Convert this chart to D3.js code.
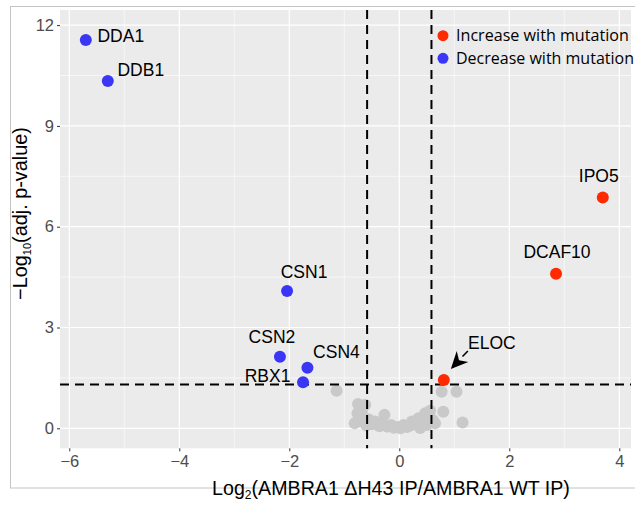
<!DOCTYPE html>
<html><head><meta charset="utf-8">
<script src="https://cdn.jsdelivr.net/npm/d3@7"></script>
<style>
html,body{margin:0;padding:0;background:#fff;}
svg{display:block;}
</style></head>
<body>
<svg id="chart" width="635" height="508"></svg>
<script>
// ---------- data ----------
const genes      = ["DDA1","DDB1","CSN1","CSN2","CSN4","RBX1","ELOC","DCAF10","IPO5"];
const log2FC     = [-5.70, -5.30, -2.04, -2.17, -1.67, -1.75, 0.81, 2.85, 3.70];
const negLog10P  = [11.56, 10.34, 4.09, 2.13, 1.80, 1.37, 1.44, 4.60, 6.87];
const direction  = ["Decrease","Decrease","Decrease","Decrease","Decrease","Decrease","Increase","Increase","Increase"];

const bgLog2FC    = [-1.14,-0.75,-0.62,-0.68,-0.76,-0.81,-0.72,-0.56,-0.60,-0.50,-0.44,-0.36,-0.27,-0.30,-0.22,-0.15,-0.10,-0.03,0.02,0.08,0.14,0.20,0.23,0.28,0.35,0.38,0.42,0.47,0.50,0.56,0.61,0.65,0.80,0.77,1.04,1.15];
const bgNegLog10P = [1.12,0.72,0.70,0.49,0.45,0.15,0.22,0.27,0.08,0.12,0.20,0.06,0.40,0.15,0.05,0.10,0.02,0.04,0.00,0.10,0.04,0.08,0.20,0.12,0.30,0.01,0.18,0.45,0.10,0.52,0.25,0.15,0.49,1.09,1.09,0.17];

const xTicks = [-6,-4,-2,0,2,4];
const yTicks = [0,3,6,9,12];
const legendLabels = ["Increase with mutation","Decrease with mutation"];
const legendKeys   = ["Increase","Decrease"];
const fcCutoff = 0.585;
const pCutoff  = 1.301;

// label nudges (pixels, layout only)
const labelDx = [35, 33, 17, -8, 29, -35.5, 48, 1, -4];
const labelDy = [-4, -11, -19, -20, -16, -7, -37, -22, -22];

// ---------- layout ----------
const colors = {Increase:"#ff2a00", Decrease:"#3b36f5"};
const grey = "#c9c9c9";
const P = {left:60, right:631, top:10, bottom:448.3};

const svg = d3.select("#chart");
const x = d3.scaleLinear().domain([-6.169, 4.213]).range([P.left, P.right]);
const y = d3.scaleLinear().domain([-0.595, 12.45]).range([P.bottom, P.top]);

// outer border
svg.append("rect").attr("x",10.5).attr("y",6.5).attr("width",640).attr("height",481.5)
  .attr("fill","none").attr("stroke","#c4c4c4").attr("stroke-width",1);

// panel
svg.append("rect").attr("x",P.left).attr("y",P.top)
  .attr("width",P.right-P.left).attr("height",P.bottom-P.top).attr("fill","#ebebeb");

const grid = svg.append("g");
const xMinor = xTicks.slice(0,-1).map((d,i)=>(d+xTicks[i+1])/2);
const yMinor = yTicks.slice(0,-1).map((d,i)=>(d+yTicks[i+1])/2).concat([13.5]).filter(v=>y(v)>=P.top);
grid.selectAll(".xmin").data(xMinor).join("line")
  .attr("x1",d=>x(d)).attr("x2",d=>x(d)).attr("y1",P.top).attr("y2",P.bottom)
  .attr("stroke","#fff").attr("stroke-width",0.6);
grid.selectAll(".ymin").data(yMinor).join("line")
  .attr("y1",d=>y(d)).attr("y2",d=>y(d)).attr("x1",P.left).attr("x2",P.right)
  .attr("stroke","#fff").attr("stroke-width",0.6);
grid.selectAll(".xmaj").data(xTicks).join("line")
  .attr("x1",d=>x(d)).attr("x2",d=>x(d)).attr("y1",P.top).attr("y2",P.bottom)
  .attr("stroke","#fff").attr("stroke-width",1.2);
grid.selectAll(".ymaj").data(yTicks).join("line")
  .attr("y1",d=>y(d)).attr("y2",d=>y(d)).attr("x1",P.left).attr("x2",P.right)
  .attr("stroke","#fff").attr("stroke-width",1.2);

// background points
const bg = bgLog2FC.map((v,i)=>({x:v,y:bgNegLog10P[i]}));
svg.append("g").selectAll("circle").data(bg).join("circle")
  .attr("cx",d=>x(d.x)).attr("cy",d=>y(d.y)).attr("r",6).attr("fill",grey);

// cutoff lines
const cut = svg.append("g").attr("stroke","#000").attr("stroke-width",2).attr("stroke-dasharray","9,6");
[-fcCutoff, fcCutoff].forEach(v=>{
  cut.append("line").attr("x1",x(v)).attr("x2",x(v)).attr("y1",P.top).attr("y2",P.bottom);
});
cut.append("line").attr("x1",P.left).attr("x2",P.right).attr("y1",y(pCutoff)).attr("y2",y(pCutoff));

// significant points
const sig = genes.map((g,i)=>({g, x:log2FC[i], y:negLog10P[i], dir:direction[i], dx:labelDx[i], dy:labelDy[i]}));
svg.append("g").selectAll("circle").data(sig).join("circle")
  .attr("cx",d=>x(d.x)).attr("cy",d=>y(d.y)).attr("r",6).attr("fill",d=>colors[d.dir]);

// labels
svg.append("g").selectAll("text").data(sig).join("text")
  .attr("x",d=>x(d.x)+d.dx).attr("y",d=>y(d.y)+d.dy).attr("dy","0.36em")
  .attr("text-anchor","middle")
  .attr("font-family","'Liberation Sans', Arial, sans-serif").attr("font-size",17.5)
  .attr("fill","#000").text(d=>d.g);

// arrow for ELOC
const eloc = sig.find(d=>d.g==="ELOC");
{
  const px = x(eloc.x), py = y(eloc.y);
  const sx = px+24, sy = py-29, tx = px+7, ty = py-11;
  const ang = Math.atan2(ty-sy, tx-sx);
  const L = 17, W = 8;
  const bx = tx - L*Math.cos(ang), by = ty - L*Math.sin(ang);
  const nx = -Math.sin(ang), ny = Math.cos(ang);
  svg.append("line").attr("x1",sx).attr("y1",sy).attr("x2",bx).attr("y2",by)
    .attr("stroke","#000").attr("stroke-width",1.6);
  svg.append("path")
    .attr("d",`M${tx},${ty} L${bx+nx*W},${by+ny*W} L${tx-0.7*L*Math.cos(ang)},${ty-0.7*L*Math.sin(ang)} L${bx-nx*W},${by-ny*W} Z`)
    .attr("fill","#000");
}

// axes
const axisFont = "'Liberation Sans', Arial, sans-serif";
const gx = svg.append("g").attr("transform",`translate(0,${P.bottom})`)
  .call(d3.axisBottom(x).tickValues(xTicks).tickSize(3).tickPadding(4).tickFormat(d=>d<0?"\u2212"+Math.abs(d):d));
const gy = svg.append("g").attr("transform",`translate(${P.left},0)`)
  .call(d3.axisLeft(y).tickValues(yTicks).tickSize(3).tickPadding(3));
[gx,gy].forEach(g=>{
  g.select(".domain").remove();
  g.selectAll(".tick line").attr("stroke","#333").attr("stroke-width",1);
  g.selectAll(".tick text").attr("fill","#4d4d4d").attr("font-family",axisFont).attr("font-size",16.5);
});

// axis titles
const xt = svg.append("text").attr("x",391).attr("y",494.5).attr("text-anchor","middle")
  .attr("font-family",axisFont).attr("font-size",18).attr("fill","#000");
xt.append("tspan").text("Log");
xt.append("tspan").attr("font-size",11).attr("dy",4).text("2");
xt.append("tspan").attr("dy",-4).text("(AMBRA1 \u0394H43 IP/AMBRA1 WT IP)");
(function(){ const w = xt.node().getComputedTextLength(); if(w>0){ xt.attr("font-size",18*358/w); xt.selectAll("tspan").filter((d,i)=>i===1).attr("font-size",11*358/w);} })();

const yt = svg.append("text").attr("transform","translate(27,213.5) rotate(-90)").attr("text-anchor","middle")
  .attr("font-family",axisFont).attr("font-size",18).attr("fill","#000");
yt.append("tspan").text("\u2212Log");
yt.append("tspan").attr("font-size",10).attr("dy",4).text("10");
yt.append("tspan").attr("dy",-4).text("(adj. p-value)");
(function(){ const w = yt.node().getComputedTextLength(); if(w>0){ const k=173/w; yt.attr("font-size",18*k); yt.selectAll("tspan").filter((d,i)=>i===1).attr("font-size",10*k);} })();

// legend
const lg = svg.append("g");
legendLabels.forEach((lab,i)=>{
  const cy = 35.7 + i*22.6;
  lg.append("circle").attr("cx",443).attr("cy",cy).attr("r",5.5).attr("fill",colors[legendKeys[i]]);
  const t = lg.append("text").attr("x",456).attr("y",cy).attr("dy","0.35em")
    .attr("font-family","'Open Sans', sans-serif").attr("font-size",15).attr("fill","#000").text(lab);
  const w = t.node().getComputedTextLength();
  const target = i===0 ? 173 : 178;
  if (w>0) t.attr("font-size", 15*target/w);
});
</script>
</body></html>
